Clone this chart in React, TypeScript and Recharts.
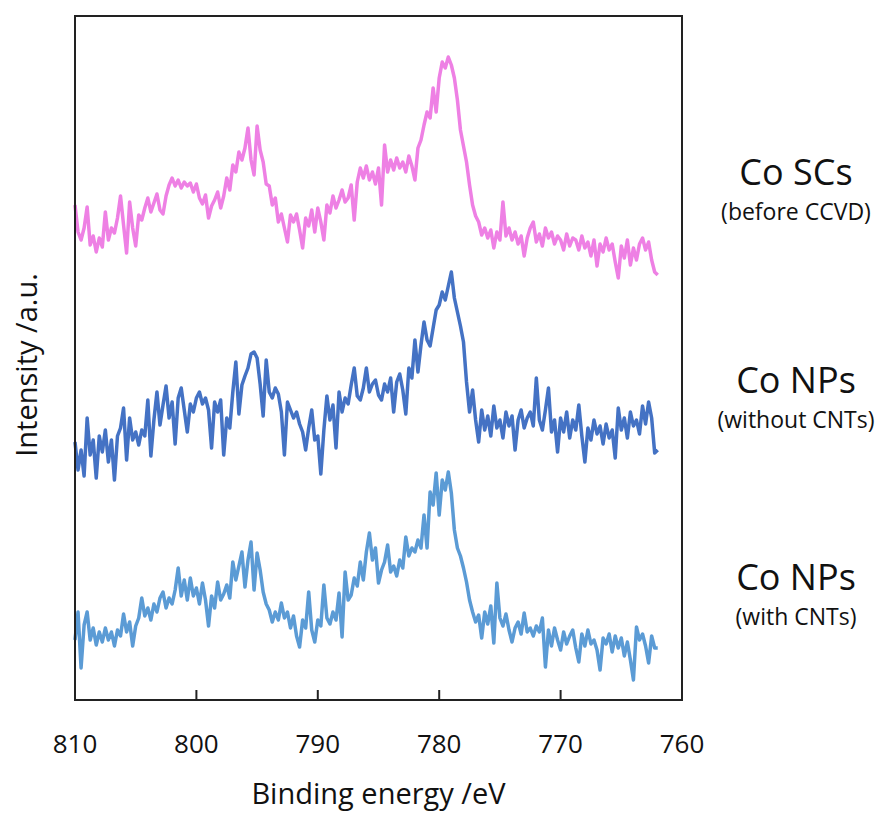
import React from "react";
import {
  LineChart,
  Line,
  XAxis,
  YAxis,
  ReferenceArea,
} from "recharts";

// Co 2p spectra, sampled every 0.25 eV from 810 eV down to 762 eV
const START_EV = 810;
const STEP_EV = 0.25;

const coScs = [
  495, 468, 460, 472, 493, 455, 464, 448, 462, 453,
  488, 460, 472, 467, 482, 504, 475, 447, 498, 472,
  454, 485, 480, 492, 502, 488, 497, 506, 490, 486,
  504, 515, 522, 514, 520, 512, 518, 514, 517, 508,
  516, 502, 496, 505, 482, 494, 500, 508, 492, 504,
  522, 510, 535, 528, 548, 540, 552, 572, 540, 525,
  574, 550, 538, 516, 514, 495, 502, 478, 486, 472,
  458, 485, 478, 486, 470, 452, 482, 474, 490, 468,
  492, 478, 460, 495, 487, 504, 492, 500, 510, 498,
  502, 515, 480, 518, 532, 522, 534, 520, 528, 516,
  532, 495, 555, 528, 540, 530, 542, 532, 538, 528,
  544, 534, 520, 552, 560, 575, 588, 582, 612, 588,
  622, 638, 632, 643, 635, 622, 600, 570, 554, 538,
  515, 495, 484, 478, 465, 472, 462, 470, 452, 468,
  460, 498, 464, 472, 460, 468, 456, 464, 444, 462,
  472, 478, 458, 466, 454, 472, 462, 468, 456, 464,
  460, 450, 466, 454, 462, 460, 450, 464, 452, 458,
  444, 460, 434, 456, 448, 462, 450, 456, 438, 422,
  454, 442, 460, 435, 452, 440, 456, 462, 450, 458,
  440, 428, 425,
];

const coNpsBare = [
  258, 230, 250, 224, 282, 245, 260, 222, 264, 248,
  270, 238, 260, 220, 264, 272, 292, 240, 282, 260,
  268, 255, 270, 264, 300, 244, 280, 308, 275, 295,
  314, 282, 298, 256, 302, 312, 290, 268, 296, 288,
  302, 308, 296, 302, 290, 252, 298, 288, 300, 245,
  282, 272, 308, 338, 286, 315, 324, 332, 346, 348,
  342, 316, 284, 340, 308, 302, 312, 306, 288, 245,
  298, 290, 282, 288, 276, 268, 250, 272, 290, 260,
  264, 226, 270, 304, 280, 295, 252, 308, 288, 302,
  296, 315, 332, 304, 300, 312, 332, 308, 316, 320,
  305, 300, 316, 308, 322, 288, 318, 326, 310, 286,
  332, 322, 360, 328, 355, 378, 360, 354, 372, 390,
  395, 408, 400, 414, 428, 402, 388, 374, 358, 318,
  288, 310, 280, 258, 290, 270, 284, 264, 294, 272,
  280, 262, 288, 274, 284, 250, 280, 290, 272, 282,
  288, 274, 322, 280, 270, 290, 312, 268, 280, 248,
  282, 268, 288, 262, 280, 270, 295, 264, 238, 272,
  260, 280, 266, 274, 256, 276, 262, 270, 242, 292,
  270, 282, 262, 288, 274, 280, 266, 294, 276, 298,
  282, 247, 250,
];

const coNpsCnt = [
  60, 88, 32, 75, 88, 60, 72, 55, 68, 58,
  72, 60, 68, 54, 70, 64, 86, 68, 78, 54,
  74, 82, 102, 84, 92, 80, 96, 88, 102, 108,
  92, 102, 96, 110, 132, 104, 120, 100, 122, 104,
  112, 96, 117, 100, 74, 104, 92, 118, 100, 106,
  115, 102, 138, 120, 134, 148, 113, 140, 158, 110,
  147, 130, 108, 96, 90, 78, 88, 80, 97, 82,
  88, 72, 84, 64, 53, 80, 72, 108, 70, 58,
  80, 74, 115, 82, 76, 88, 80, 107, 63, 128,
  100, 105, 122, 114, 138, 120, 148, 167, 140, 152,
  117, 130, 138, 155, 128, 134, 124, 140, 132, 163,
  144, 152, 148, 160, 152, 185, 152, 208, 195, 227,
  185, 220, 210, 228, 207, 170, 152, 144, 132, 118,
  100, 88, 78, 85, 62, 88, 76, 94, 57, 117,
  82, 74, 86, 70, 58, 72, 78, 66, 87, 68,
  72, 64, 74, 68, 82, 33, 70, 54, 72, 60,
  50, 68, 56, 64, 70, 52, 38, 66, 54, 70,
  56, 60, 50, 30, 62, 56, 66, 48, 64, 52,
  62, 44, 58, 40, 20, 73, 60, 66, 54, 37,
  64, 52, 52,
];

const xTicks = [810, 800, 790, 780, 770, 760];

const seriesLabels = [
  { title: "Co SCs", sub: "(before CCVD)", top: 154 },
  { title: "Co NPs", sub: "(without CNTs)", top: 362 },
  { title: "Co NPs", sub: "(with CNTs)", top: 559 },
];

const data = coScs.map((v, i) => ({
  energy: START_EV - i * STEP_EV,
  scs: v,
  bare: coNpsBare[i],
  cnt: coNpsCnt[i],
}));

const FONT = "'Open Sans', 'Noto Sans', sans-serif";
const AXIS = "#222";
const Y_MAX = 684;

function EnergyTick({ x, y, payload }: any) {
  return (
    <g>
      <line x1={x} y1={y} x2={x} y2={y - 10} stroke={AXIS} strokeWidth={2} />
      <text
        x={x}
        y={y + 46}
        textAnchor="middle"
        dominantBaseline="middle"
        fontSize={26}
        fontFamily={FONT}
        fill="#111"
      >
        {payload.value}
      </text>
    </g>
  );
}

export default function App() {
  return (
    <div
      style={{
        position: "absolute",
        left: 0,
        top: 0,
        width: 884,
        height: 814,
        background: "#fff",
        fontFamily: FONT,
      }}
    >
      <LineChart
        width={884}
        height={814}
        data={data}
        margin={{ top: 16, right: 202, bottom: 0, left: 0 }}
      >
        <ReferenceArea
          x1={760}
          x2={810}
          y1={0}
          y2={Y_MAX}
          fill="none"
          stroke={AXIS}
          strokeWidth={2}
        />
        <XAxis
          type="number"
          dataKey="energy"
          domain={[760, 810]}
          reversed
          ticks={xTicks}
          height={114}
          tickSize={0}
          tickMargin={0}
          tickLine={false}
          axisLine={{ stroke: AXIS, strokeWidth: 2 }}
          tick={<EnergyTick />}
          label={{
            content: ({ viewBox }: any) => (
              <text
                x={viewBox.x + viewBox.width / 2}
                y={viewBox.y + 96}
                textAnchor="middle"
                dominantBaseline="middle"
                fontSize={29}
                fontFamily={FONT}
                fill="#111"
              >
                Binding energy /eV
              </text>
            ),
          }}
        />
        <YAxis
          type="number"
          domain={[0, Y_MAX]}
          width={75}
          tick={false}
          tickLine={false}
          axisLine={{ stroke: AXIS, strokeWidth: 2 }}
          label={{
            content: ({ viewBox }: any) => {
              const cx = viewBox.x + 29;
              const cy = viewBox.y + viewBox.height / 2 + 7;
              return (
                <text
                  x={cx}
                  y={cy}
                  transform={`rotate(-90 ${cx} ${cy})`}
                  textAnchor="middle"
                  dominantBaseline="middle"
                  fontSize={29}
                  fontFamily={FONT}
                  fill="#111"
                >
                  Intensity /a.u.
                </text>
              );
            },
          }}
        />
        <Line
          type="linear"
          dataKey="scs"
          stroke="#EE80E4"
          strokeWidth={3.5}
          strokeLinejoin="round"
          dot={false}
          isAnimationActive={false}
        />
        <Line
          type="linear"
          dataKey="bare"
          stroke="#4472C4"
          strokeWidth={3.5}
          strokeLinejoin="round"
          dot={false}
          isAnimationActive={false}
        />
        <Line
          type="linear"
          dataKey="cnt"
          stroke="#5B9BD5"
          strokeWidth={3.5}
          strokeLinejoin="round"
          dot={false}
          isAnimationActive={false}
        />
      </LineChart>
      {seriesLabels.map((s) => (
        <React.Fragment key={s.sub}>
          <div
            style={{
              position: "absolute",
              left: 696,
              width: 200,
              top: s.top,
              textAlign: "center",
              color: "#111",
              fontSize: 36,
              lineHeight: "36px",
            }}
          >
            {s.title}
          </div>
          <div
            style={{
              position: "absolute",
              left: 696,
              width: 200,
              top: s.top + 46,
              textAlign: "center",
              color: "#111",
              fontSize: 23,
              lineHeight: "23px",
            }}
          >
            {s.sub}
          </div>
        </React.Fragment>
      ))}
    </div>
  );
}
